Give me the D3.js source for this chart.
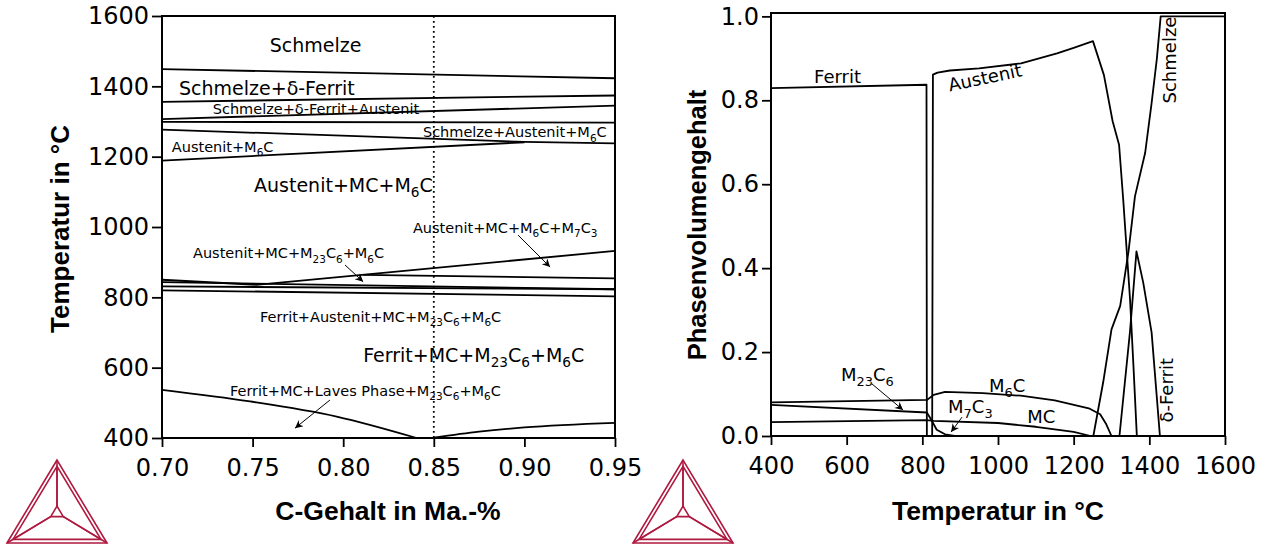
<!DOCTYPE html>
<html>
<head>
<meta charset="utf-8">
<script src="https://cdnjs.cloudflare.com/ajax/libs/d3/7.8.5/d3.min.js"></script>
<style>
  body { margin: 0; background: #fff; }
  svg text { font-family: "DejaVu Sans", sans-serif; fill: #000; }
  .title { font-family: "Liberation Sans", Arial, sans-serif !important; font-weight: bold; }
</style>
</head>
<body>
<script>
// ---- left: isopleth, C content vs temperature ----
var cTicks = [0.70, 0.75, 0.80, 0.85, 0.90, 0.95];
var tTicksLeft = [400, 600, 800, 1000, 1200, 1400, 1600];
var markedC = 0.85;

// phase boundaries [C in Ma.-%, T in °C]
var liquidus       = [[0.70, 1449], [0.95, 1423]];
var deltaBoundary  = [[0.70, 1356], [0.95, 1374]];
var austStart      = [[0.70, 1307], [0.95, 1345]];
var solidus        = [[0.70, 1299], [0.95, 1297]];
var m6cUpper       = [[0.70, 1277], [0.90, 1242], [0.95, 1238]];
var mcStart        = [[0.70, 1189], [0.90, 1241]];
var m7c3Lower      = [[0.70, 850], [0.752, 835.7], [0.95, 932]];
var m7c3Branch     = [[0.811, 864], [0.95, 854]];
var ferritStart    = [[0.70, 843], [0.95, 823]];
var m23Line        = [[0.70, 831], [0.95, 823]];
var austEnd        = [[0.70, 820], [0.95, 803]];
var lavesLeft      = [[0.70, 537], [0.7486, 504], [0.7964, 461], [0.8406, 400]];
var lavesRight     = [[0.85, 401], [0.875, 418], [0.90, 430], [0.95, 443]];

// ---- right: phase fractions vs temperature ----
var tTicksRight = [400, 600, 800, 1000, 1200, 1400, 1600];
var fTicks = [0.0, 0.2, 0.4, 0.6, 0.8, 1.0];

var ferrit = [[400, 0.829], [811, 0.837], [812, 0]];
var austenit = [[826, 0], [828, 0.861], [840, 0.866], [873, 0.871], [950, 0.876], [1061, 0.888],
  [1156, 0.912], [1200, 0.925], [1251, 0.941], [1280, 0.86], [1303, 0.75], [1320, 0.694],
  [1331, 0.563], [1349, 0.326], [1358, 0.167], [1367, 0]];
var schmelze = [[1252, 0], [1278, 0.128], [1300, 0.254], [1323, 0.31], [1345, 0.44], [1362, 0.571],
  [1389, 0.675], [1406, 0.793], [1420, 0.9], [1430, 1.0], [1600, 1.0]];
var deltaFerrit = [[1321, 0], [1349, 0.25], [1366, 0.44], [1384, 0.365], [1406, 0.247], [1428, 0]];
var m6c = [[400, 0.080], [812, 0.086], [830, 0.098], [860, 0.105], [960, 0.102], [1060, 0.096],
  [1150, 0.085], [1240, 0.066], [1270, 0.052], [1285, 0.03], [1300, 0]];
var m23c6 = [[400, 0.074], [812, 0.056], [816, 0.05]];
var m7c3 = [[816, 0.05], [826, 0.035], [838, 0.015], [860, 0.004], [885, 0]];
var mc = [[400, 0.033], [812, 0.038], [830, 0.036], [1000, 0.031], [1100, 0.022], [1200, 0.01], [1245, 0]];

var W = 1275, H = 545;
var svg = d3.select("body").append("svg")
  .attr("width", W).attr("height", H)
  .style("display", "block");

var defs = svg.append("defs");
defs.append("marker")
  .attr("id", "arrow")
  .attr("viewBox", "0 0 10 10")
  .attr("refX", 10).attr("refY", 5)
  .attr("markerUnits", "userSpaceOnUse")
  .attr("markerWidth", 12).attr("markerHeight", 8)
  .attr("orient", "auto")
  .append("path").attr("d", "M0,0 L10,5 L0,10 L3,5 z").attr("fill", "#000");

// text with {subscript} parts
function label(g, x, y, txt, size, anchor, rotate) {
  var t = g.append("text")
    .attr("x", x).attr("y", y)
    .attr("dy", "0.35em")
    .attr("font-size", size)
    .attr("text-anchor", anchor || "start");
  if (rotate) t.attr("transform", "rotate(" + rotate + "," + x + "," + y + ")");
  var down = false;
  txt.split(/(\{[^}]*\})/).forEach(function(p) {
    if (!p) return;
    if (p[0] === "{") {
      t.append("tspan").attr("font-size", size * 0.72).attr("dy", down ? 0 : size * 0.28).text(p.slice(1, -1));
      down = true;
    } else {
      var s = t.append("tspan").text(p);
      if (down) s.attr("dy", -size * 0.28);
      down = false;
    }
  });
  return t;
}

function arrow(g, x1, y1, x2, y2) {
  g.append("line")
    .attr("x1", x1).attr("y1", y1).attr("x2", x2).attr("y2", y2)
    .attr("stroke", "#000").attr("stroke-width", 1)
    .attr("marker-end", "url(#arrow)");
}

// ================= left chart =================
var xL = d3.scaleLinear().domain([0.70, 0.95]).range([162, 615]);
var yL = d3.scaleLinear().domain([400, 1600]).range([438, 16]);
var gL = svg.append("g");

var lineL = d3.line().x(function(d) { return xL(d[0]); }).y(function(d) { return yL(d[1]); });
var lineLs = d3.line().curve(d3.curveMonotoneX).x(function(d) { return xL(d[0]); }).y(function(d) { return yL(d[1]); });

gL.append("line")
  .attr("x1", xL(markedC)).attr("x2", xL(markedC))
  .attr("y1", yL(1600)).attr("y2", yL(400))
  .attr("stroke", "#000").attr("stroke-width", 1.8)
  .attr("stroke-dasharray", "1.8,3.2");

[liquidus, deltaBoundary, austStart, solidus, m6cUpper, mcStart,
 m7c3Lower, m7c3Branch, ferritStart, m23Line, austEnd].forEach(function(b) {
  gL.append("path").attr("d", lineL(b))
    .attr("fill", "none").attr("stroke", "#000").attr("stroke-width", 1.8);
});
[lavesLeft, lavesRight].forEach(function(b) {
  gL.append("path").attr("d", lineLs(b))
    .attr("fill", "none").attr("stroke", "#000").attr("stroke-width", 1.8);
});

gL.append("rect")
  .attr("x", xL(0.70)).attr("y", yL(1600))
  .attr("width", xL(0.95) - xL(0.70)).attr("height", yL(400) - yL(1600))
  .attr("fill", "none").attr("stroke", "#000").attr("stroke-width", 2);

var axLx = gL.append("g").attr("transform", "translate(0," + yL(400) + ")")
  .call(d3.axisBottom(xL).tickValues(cTicks).tickFormat(d3.format(".2f")).tickSize(9).tickPadding(12));
var axLy = gL.append("g").attr("transform", "translate(" + xL(0.70) + ",0)")
  .call(d3.axisLeft(yL).tickValues(tTicksLeft).tickFormat(d3.format("d")).tickSize(10).tickPadding(3));
[axLx, axLy].forEach(function(a) {
  a.select(".domain").remove();
  a.selectAll(".tick line").attr("stroke", "#000").attr("stroke-width", 1.8);
  a.selectAll(".tick text").attr("font-size", 24).attr("font-family", "DejaVu Sans");
});

gL.append("text").attr("class", "title")
  .attr("x", 388).attr("y", 520).attr("text-anchor", "middle")
  .attr("font-size", 26.5).text("C-Gehalt in Ma.-%");
gL.append("text").attr("class", "title")
  .attr("transform", "translate(69,229) rotate(-90)")
  .attr("text-anchor", "middle").attr("font-size", 26).text("Temperatur in °C");

label(gL, xL(0.7848), yL(1517), "Schmelze", 19, "middle");
label(gL, xL(0.7094), yL(1395), "Schmelze+δ-Ferrit", 19);
label(gL, xL(0.728), yL(1335), "Schmelze+δ-Ferrit+Austenit", 14.5);
label(gL, xL(0.844), yL(1269), "Schmelze+Austenit+M{6}C", 14.5);
label(gL, xL(0.7054), yL(1228), "Austenit+M{6}C", 14.5);
label(gL, xL(0.7508), yL(1119), "Austenit+MC+M{6}C", 19);
label(gL, xL(0.8385), yL(997), "Austenit+MC+M{6}C+M{7}C{3}", 14.5);
label(gL, xL(0.7171), yL(925), "Austenit+MC+M{23}C{6}+M{6}C", 14.5);
label(gL, xL(0.7541), yL(744), "Ferrit+Austenit+MC+M{23}C{6}+M{6}C", 14.5);
label(gL, xL(0.811), yL(636), "Ferrit+MC+M{23}C{6}+M{6}C", 19);
label(gL, xL(0.7375), yL(534.5), "Ferrit+MC+Laves Phase+M{23}C{6}+M{6}C", 14.5);
arrow(gL, xL(0.8965), yL(977), xL(0.9142), yL(886));
arrow(gL, xL(0.801), yL(892), xL(0.811), yL(844.5));
arrow(gL, xL(0.7927), yL(508), xL(0.7734), yL(428));

// ================= right chart =================
var xR = d3.scaleLinear().domain([400, 1600]).range([771, 1225]);
var yR = d3.scaleLinear().domain([0, 1.008]).range([436, 13]);
var gR = svg.append("g");

var lineR = d3.line().x(function(d) { return xR(d[0]); }).y(function(d) { return yR(d[1]); });

[ferrit, austenit, schmelze, deltaFerrit, m6c, m23c6, m7c3, mc].forEach(function(s) {
  gR.append("path").attr("d", lineR(s))
    .attr("fill", "none").attr("stroke", "#000").attr("stroke-width", 1.8)
    .attr("stroke-linejoin", "round");
});

gR.append("rect")
  .attr("x", xR(400)).attr("y", yR(1.008))
  .attr("width", xR(1600) - xR(400)).attr("height", yR(0) - yR(1.008))
  .attr("fill", "none").attr("stroke", "#000").attr("stroke-width", 2);

var axRx = gR.append("g").attr("transform", "translate(0," + yR(0) + ")")
  .call(d3.axisBottom(xR).tickValues(tTicksRight).tickFormat(d3.format("d")).tickSize(9).tickPadding(12));
var axRy = gR.append("g").attr("transform", "translate(" + xR(400) + ",0)")
  .call(d3.axisLeft(yR).tickValues(fTicks).tickFormat(d3.format(".1f")).tickSize(9).tickPadding(3));
[axRx, axRy].forEach(function(a) {
  a.select(".domain").remove();
  a.selectAll(".tick line").attr("stroke", "#000").attr("stroke-width", 1.8);
  a.selectAll(".tick text").attr("font-size", 24).attr("font-family", "DejaVu Sans");
});

gR.append("text").attr("class", "title")
  .attr("x", 998).attr("y", 520).attr("text-anchor", "middle")
  .attr("font-size", 26.5).text("Temperatur in °C");
gR.append("text").attr("class", "title")
  .attr("transform", "translate(706,225) rotate(-90)")
  .attr("text-anchor", "middle").attr("font-size", 25.5).text("Phasenvolumengehalt");

label(gR, xR(513.7), yR(0.856), "Ferrit", 18);
label(gR, xR(965.7), yR(0.854), "Austenit", 18, "middle", -12);
label(gR, xR(1454.7), yR(0.896), "Schmelze", 18, "middle", -90);
label(gR, xR(1446.8), yR(0.109), "δ-Ferrit", 18, "middle", -90);
label(gR, xR(585), yR(0.147), "M{23}C{6}", 18);
label(gR, xR(868), yR(0.069), "M{7}C{3}", 18);
label(gR, xR(976), yR(0.121), "M{6}C", 18);
label(gR, xR(1077), yR(0.045), "MC", 18);
arrow(gR, xR(667), yR(0.124), xR(749), yR(0.062));
arrow(gR, xR(905), yR(0.045), xR(876), yR(0.0095));

// ================= logos =================
function logo(cx, baseY, w) {
  var h = w * 0.83;
  var col = "#b0193f";
  var g = svg.append("g").attr("fill", "none").attr("stroke", col).attr("stroke-width", 1.6)
    .attr("stroke-linejoin", "miter");
  var A = [cx, baseY - h], B = [cx - w / 2, baseY], C = [cx + w / 2, baseY];
  var O = [cx, baseY - h * 0.36];
  function lerp(p, q, t) { return [p[0] + (q[0] - p[0]) * t, p[1] + (q[1] - p[1]) * t]; }
  var tri = function(p) { return "M" + p.map(function(d) { return d.join(","); }).join("L") + "Z"; };
  g.append("path").attr("d", tri([A, B, C]));
  var Ai = lerp(A, O, 0.12), Bi = lerp(B, O, 0.12), Ci = lerp(C, O, 0.12);
  g.append("path").attr("d", tri([Ai, Bi, Ci]));
  var s = w * 0.07;
  var O0 = [O[0], O[1] - s], O1 = [O[0] - s * 0.9, O[1] + s * 0.5], O2 = [O[0] + s * 0.9, O[1] + s * 0.5];
  g.append("path").attr("d", tri([O0, O1, O2]));
  [[A, O0], [Ai, O0], [B, O1], [Bi, O1], [C, O2], [Ci, O2]].forEach(function(p) {
    g.append("line").attr("x1", p[0][0]).attr("y1", p[0][1]).attr("x2", p[1][0]).attr("y2", p[1][1]);
  });
}
logo(57, 543, 100);
logo(683, 543, 100);
</script>
</body>
</html>
